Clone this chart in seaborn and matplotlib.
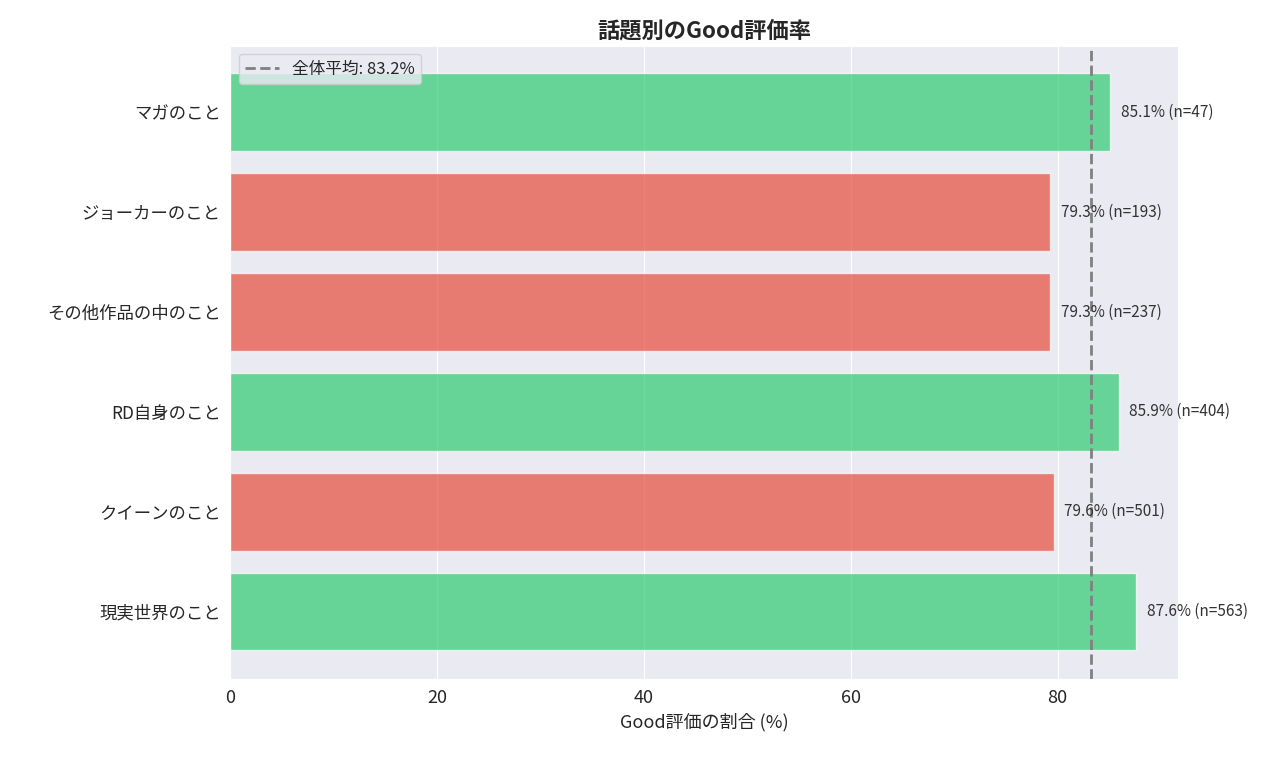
import matplotlib
matplotlib.use('AGG')
import matplotlib.pyplot as plt
import seaborn as sns
import pandas as pd

topics = ['マガのこと', 'ジョーカーのこと', 'その他作品の中のこと', 'RD自身のこと', 'クイーンのこと', '現実世界のこと']
good_rate = [85.1, 79.3, 79.3, 85.9, 79.6, 87.6]
counts = [47, 193, 237, 404, 501, 563]
overall_avg = 83.2

sns.set_style("darkgrid")
plt.rcParams['font.family'] = ['Noto Sans CJK JP', 'DejaVu Sans']

df = pd.DataFrame({'topic': topics, 'rate': good_rate, 'n': counts})
colors = ['#2ecc71' if r > overall_avg else '#e74c3c' for r in good_rate]

fig = plt.figure(figsize=(12.8, 7.59), dpi=100)
ax = fig.add_axes([0.18, 0.105, 0.74, 0.835])
sns.barplot(data=df, y='topic', x='rate', hue='topic', palette=colors, legend=False,
            alpha=0.7, width=0.78, saturation=1, ax=ax, orient='h')

for i, (r, n) in enumerate(zip(good_rate, counts)):
    ax.text(r + 1, i, f'{r}% (n={n})', va='center', fontsize=11, color='#333333')

ax.axvline(overall_avg, color='gray', linestyle='--', linewidth=2, label=f'全体平均: {overall_avg}%')
ax.legend(loc='upper left', fontsize=12)

ax.set_xlim(0, 91.6)
ax.set_ylim(5.68, -0.67)
ax.set_title('話題別のGood評価率', fontsize=16, fontweight='bold')
ax.set_xlabel('Good評価の割合 (%)', fontsize=13)
ax.set_ylabel('')
ax.tick_params(axis='x', labelsize=13)
ax.tick_params(axis='y', labelsize=12.5)

plt.savefig('out.png', dpi=100)
